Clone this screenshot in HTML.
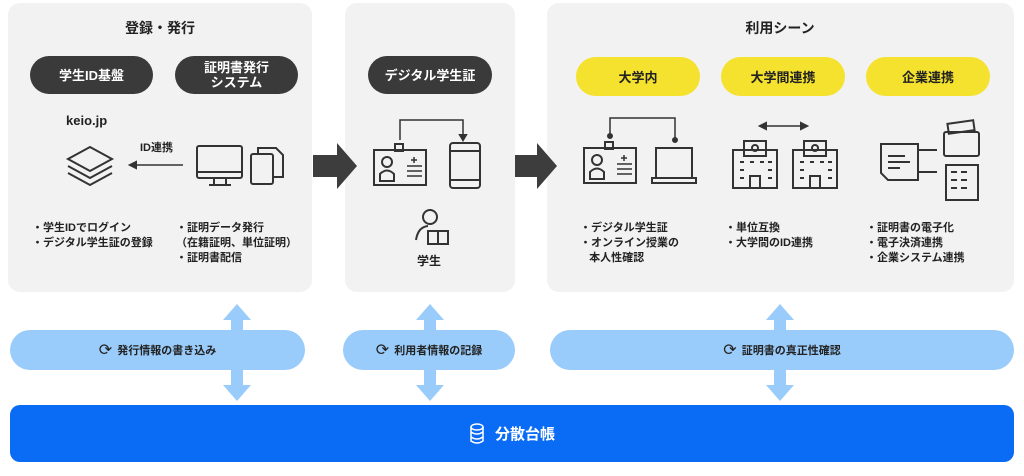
<!DOCTYPE html>
<html><head><meta charset="utf-8"><style>
body{margin:0;width:1024px;height:476px;background:#fff;position:relative;overflow:hidden;font-family:"Liberation Sans","Noto Sans CJK JP",sans-serif;font-weight:bold;color:#222}
.a{position:absolute}
.panel{position:absolute;background:#f2f2f2;border-radius:12px}
.dk{position:absolute;background:#3a3a3a;color:#fff;border-radius:20px;display:flex;align-items:center;justify-content:center;text-align:center;font-size:13px;line-height:15px}
.yl{position:absolute;background:#f4e22e;color:#222;border-radius:20px;display:flex;align-items:center;justify-content:center;font-size:13px}
.t{position:absolute;font-size:11px;line-height:15px;white-space:nowrap}
.lp{position:absolute;background:#99ccfb;border-radius:20px;display:flex;align-items:center;justify-content:center;font-size:11px;color:#222}
.lp b{font-size:16px;margin-right:5px;font-weight:normal}
</style></head><body>
<div class="panel" style="left:8px;top:3px;width:304px;height:289px"></div>
<div class="panel" style="left:345px;top:3px;width:170px;height:289px"></div>
<div class="panel" style="left:547px;top:3px;width:467px;height:289px"></div>
<div class="a" style="left:120px;top:18px;width:80px;text-align:center;font-size:14px">登録・発行</div>
<div class="a" style="left:740px;top:18px;width:80px;text-align:center;font-size:14px">利用シーン</div>
<div class="dk" style="left:30px;top:56px;width:123px;height:38px">学生ID基盤</div>
<div class="dk" style="left:175px;top:56px;width:123px;height:38px">証明書発行<br>システム</div>
<div class="dk" style="left:368px;top:56px;width:124px;height:38px">デジタル学生証</div>
<div class="yl" style="left:576px;top:57px;width:124px;height:39px">大学内</div>
<div class="yl" style="left:721px;top:57px;width:124px;height:39px">大学間連携</div>
<div class="yl" style="left:866px;top:57px;width:124px;height:39px">企業連携</div>
<div class="a" style="left:66px;top:113px;font-size:13px">keio.jp</div>
<div class="a" style="left:140px;top:139px;font-size:11px">ID連携</div>
<svg class="a" style="left:0;top:0" width="1024" height="300" fill="none" stroke="#333" stroke-width="2">
<path d="M90 147 L112 159 L90 171 L68 159Z M68 166 L90 178 L112 166 M68 173 L90 185 L112 173"/>
<path d="M183 165 H132" stroke-width="1.5"/><path d="M136 162 L130 165 L136 168Z" fill="#333"/>
<rect x="197" y="146" width="45" height="32" rx="2"/><path d="M197 172 H242 M214 178 V184 M226 178 V184 M209 185 H231"/>
<rect x="251" y="154" width="22" height="30" rx="2"/><path d="M258 154 V148 H276 L283 155 V177 H273"/>
<path d="M313 155 H337 V143 L357 166 L337 189 V177 H313Z" fill="#3d3d3d" stroke="none"/>
<path d="M515 155 H537 V143 L557 166 L537 189 V177 H515Z" fill="#3d3d3d" stroke="none"/>
<path d="M400 140 V120 H463 V136" stroke-width="1.5"/><path d="M460 135 L463 140 L466 135Z" fill="#333"/>
<rect x="374" y="150" width="52" height="35"/><rect x="395" y="144" width="8" height="7"/>
<circle cx="387" cy="162" r="5"/><path d="M380 181 V174 Q387 167 394 174 V181Z"/>
<path d="M407 166 H422 M407 171 H422 M407 176 H422 M414 157 V163 M411 160 H417" stroke-width="1.5"/>
<rect x="450" y="143" width="30" height="45" rx="3"/><path d="M450 151 H480 M450 180 H480"/>
<circle cx="430" cy="217" r="7"/><path d="M416 240 Q418 227 428 226"/><path d="M428 231 H448 V244 H428Z M438 231 V244"/>
<path d="M610 138 V118 H675 V138" stroke-width="1.5"/><circle cx="610" cy="136" r="2" fill="#333"/><circle cx="675" cy="140" r="2" fill="#333"/>
<rect x="584" y="148" width="52" height="35"/><rect x="605" y="142" width="8" height="7"/>
<circle cx="597" cy="160" r="5"/><path d="M590 179 V172 Q597 165 604 172 V179Z"/>
<path d="M617 164 H632 M617 169 H632 M617 174 H632 M624 155 V161 M621 158 H627" stroke-width="1.5"/>
<rect x="656" y="148" width="36" height="30"/><path d="M652 178 H696 V183 H652Z"/>
<path d="M762 126 H805" stroke-width="1.5"/><path d="M766 123 L760 126 L766 129Z M801 123 L807 126 L801 129Z" fill="#333"/>
<rect x="733" y="150" width="44" height="38"/><rect x="744" y="141" width="22" height="15"/><circle cx="755" cy="148" r="3"/>
<rect x="793" y="150" width="44" height="38"/><rect x="804" y="141" width="22" height="15"/><circle cx="815" cy="148" r="3"/>
<path d="M740 162h4M750 162h4M760 162h4M768 162h4M740 170h4M768 170h4M740 178h4M768 178h4M800 162h4M810 162h4M820 162h4M828 162h4M800 170h4M828 170h4M800 178h4M828 178h4M750 188V176H760V188M810 188V176H820V188"/>
<path d="M881 144 H918 V180 H888 L881 173Z M888 156H905 M888 162H910 M888 168H900"/>
<path d="M918 150 H937 M918 172 H937"/>
<rect x="944" y="132" width="35" height="24" rx="2"/><rect x="948" y="122" width="26" height="10" transform="rotate(-8 961 127)"/>
<rect x="946" y="165" width="32" height="35"/><path d="M951 172h6M961 172h6M951 180h6M961 180h6M951 188h6M961 188h6"/>
</svg>
<div class="a" style="left:417px;top:252px;font-size:12px">学生</div>
<div class="t" style="left:32px;top:221px">・学生IDでログイン<br>・デジタル学生証の登録</div>
<div class="t" style="left:176px;top:221px">・証明データ発行<br>（在籍証明、単位証明）<br>・証明書配信</div>
<div class="t" style="left:580px;top:221px">・デジタル学生証<br>・オンライン授業の<br>&nbsp;&nbsp;&nbsp;本人性確認</div>
<div class="t" style="left:725px;top:221px">・単位互換<br>・大学間のID連携</div>
<div class="t" style="left:866px;top:221px">・証明書の電子化<br>・電子決済連携<br>・企業システム連携</div>
<svg class="a" style="left:0;top:300px" width="1024" height="105" fill="#99ccfb">
<path d="M237 4 L251 20 H243 V85 H251 L237 101 L223 85 H231 V20 H223Z"/>
<path d="M430 4 L444 20 H436 V85 H444 L430 101 L416 85 H424 V20 H416Z"/>
<path d="M780 4 L794 20 H786 V85 H794 L780 101 L766 85 H774 V20 H766Z"/>
</svg>
<div class="lp" style="left:10px;top:330px;width:295px;height:40px"><b>⟳</b>発行情報の書き込み</div>
<div class="lp" style="left:343px;top:330px;width:172px;height:40px"><b>⟳</b>利用者情報の記録</div>
<div class="lp" style="left:550px;top:330px;width:464px;height:40px"><b>⟳</b>証明書の真正性確認</div>
<div class="a" style="left:10px;top:405px;width:1004px;height:57px;background:#0a6cf5;border-radius:10px;color:#fff;display:flex;align-items:center;justify-content:center;font-size:15px">
<svg width="16" height="22" fill="none" stroke="#fff" stroke-width="1.5" style="margin-right:10px"><ellipse cx="8" cy="4" rx="6" ry="3"/><path d="M2 4V18Q8 22 14 18V4M2 9Q8 13 14 9M2 14Q8 18 14 14"/></svg>分散台帳</div>
</body></html>
